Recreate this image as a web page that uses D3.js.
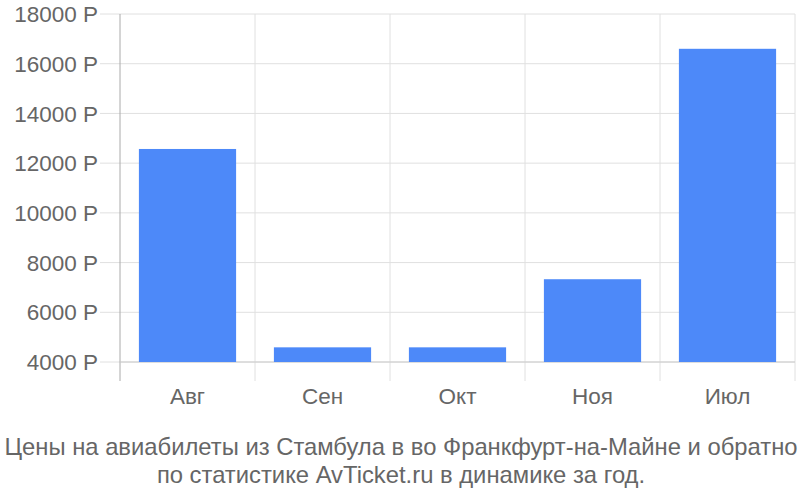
<!DOCTYPE html>
<html><head><meta charset="utf-8">
<script src="https://cdn.jsdelivr.net/npm/d3@7"></script>
<style>body{margin:0;background:#fff}svg{display:block}</style>
</head><body>
<svg id="c" width="800" height="500"></svg>
<script>
const categories = ["Авг","Сен","Окт","Ноя","Июл"];
const prices = [12570, 4590, 4590, 7330, 16600];
const yTicks = [4000,6000,8000,10000,12000,14000,16000,18000];
const titleLines = ["Цены на авиабилеты из Стамбула в во Франкфурт-на-Майне и обратно","по статистике AvTicket.ru в динамике за год."];

(function(){
const svg = d3.select("#c");
const font = "'Liberation Sans', Arial, sans-serif";
const pLeft = 120, pRight = 795, pTop = 14, pBottom = 362, axisBottom = 381;
const x = d3.scaleBand().domain(categories).range([pLeft, pRight]).paddingInner(0.28).paddingOuter(0.14);
const y = d3.scaleLinear().domain([4000, 18000]).range([pBottom, pTop]);

svg.append("g").selectAll("line").data(yTicks).join("line")
  .attr("x1", 100).attr("x2", pRight).attr("y1", d=>y(d)).attr("y2", d=>y(d))
  .attr("stroke", "#e0e0e0").attr("stroke-width", 1);
const bounds = categories.map(c => x(c) - x.step()*x.paddingOuter()).concat([pRight]);
svg.append("g").selectAll("line").data(bounds.slice(1)).join("line")
  .attr("x1", d=>d).attr("x2", d=>d).attr("y1", pTop).attr("y2", axisBottom)
  .attr("stroke", "#e0e0e0").attr("stroke-width", 1);
svg.append("line").attr("x1", pLeft).attr("x2", pLeft).attr("y1", pTop).attr("y2", axisBottom)
  .attr("stroke", "#aaaaaa").attr("stroke-width", 1);
svg.append("line").attr("x1", pLeft).attr("x2", pRight).attr("y1", pBottom).attr("y2", pBottom)
  .attr("stroke", "#cccccc").attr("stroke-width", 1);

svg.append("g").selectAll("rect").data(prices).join("rect")
  .attr("x", (d,i)=>x(categories[i])).attr("width", x.bandwidth())
  .attr("y", d=>y(d)).attr("height", d=>pBottom - y(d))
  .attr("fill", "#4d89f9");

svg.append("g").selectAll("text").data(yTicks).join("text")
  .attr("x", 98).attr("y", d=>y(d)).attr("dy", "0.36em")
  .attr("text-anchor", "end").attr("font-family", font).attr("font-size", 22.5)
  .attr("fill", "#666").text(d=>d + " Р");

svg.append("g").selectAll("text").data(categories).join("text")
  .attr("x", d=>x(d) + x.bandwidth()/2).attr("y", 404)
  .attr("text-anchor", "middle").attr("font-family", font).attr("font-size", 22.5)
  .attr("fill", "#666").text(d=>d);

svg.append("g").selectAll("text").data(titleLines).join("text")
  .attr("x", 401).attr("y", (d,i)=>455 + i*28)
  .attr("text-anchor", "middle").attr("font-family", font).attr("font-size", 23.8)
  .attr("fill", "#666").text(d=>d);
})();
</script>
</body></html>
